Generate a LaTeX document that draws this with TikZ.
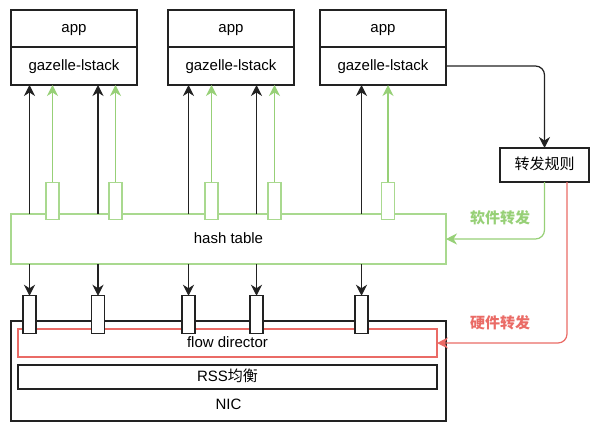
\documentclass[tikz,border=0pt]{standalone}
\usepackage{fontspec}
\setmainfont{Liberation Sans}
\newfontfamily\cjk{Noto Sans CJK SC}
\usetikzlibrary{arrows.meta}
\definecolor{gline}{HTML}{97D077}
\definecolor{gbox}{HTML}{A9D98F}
\definecolor{rline}{HTML}{EA6B66}
\definecolor{dk}{HTML}{222222}
\begin{document}
\begin{tikzpicture}[x=1pt,y=-1pt,
  every node/.style={font=\fontsize{15}{17}\selectfont, inner sep=0pt, outer sep=0pt, text height=12pt, text depth=3.2pt},
  box/.style={draw=dk, line width=1.2pt, fill=white},
  gbx/.style={draw=gbox, line width=1.2pt, fill=white},
  rbx/.style={draw=rline, line width=1.2pt, fill=white},
  tip/.style={-{Stealth[length=11pt,width=11pt,inset=3.5pt]}},
  karr/.style={tip, draw=dk, line width=1.2pt},
  garr/.style={tip, draw=gline, line width=1.2pt},
  rarr/.style={tip, draw=rline, line width=1.2pt},
  port/.style={minimum width=13, minimum height=37.5, text height=0pt, text depth=0pt}
]
\useasboundingbox (0,0) rectangle (602,431);

% app boxes
\foreach \i/\cx in {1/74,2/231,3/383}{
  \node[box, minimum width=126, minimum height=37] (app\i) at (\cx,28.5) {app};
  \node[box, minimum width=126, minimum height=38] (gz\i) at (\cx,66) {gazelle-lstack};
}

% rule box
\node[box, minimum width=89, minimum height=34] (rule) at (544.5,165) {\cjk 转发规则};

% hash table
\node[gbx, minimum width=435, minimum height=50] (ht) at (228.5,239) {hash table};

% NIC
\node[box, minimum width=435, minimum height=100, text height=0pt, text depth=0pt] (nic) at (228.5,371) {};
\node (nictext) at (228.5,405) {NIC};
\node[rbx, minimum width=419, minimum height=28] (fd) at (227.5,343) {flow director};
\node[box, minimum width=419, minimum height=24] (rss) at (227.5,377) {RSS{\cjk 均衡}};

% green ports and arrows
\foreach \i/\cx/\t in {1/52.5/1,2/115.5/1,3/211.5/2,4/274.5/2,5/388/3}{
  \node[gbx, port] (g\i) at (\cx,201) {};
  \draw[garr] (g\i.north) -- (gz\t.south -| g\i.north);
}

% black ports and arrows
\foreach \i/\cx/\t in {1/29.5/1,2/98/1,3/188.5/2,4/256.5/2,5/361.5/3}{
  \node[box, port] (b\i) at (\cx,314.5) {};
  \draw[karr] (ht.north -| b\i.north) -- (gz\t.south -| b\i.north);
  \draw[karr] (ht.south -| b\i.north) -- (b\i.north);
}

% rule connectors
\draw[karr, rounded corners=9pt] (gz3.east) -| (rule.north);
\draw[garr, rounded corners=9pt] (rule.south) |- (ht.east);
\draw[rarr, rounded corners=9pt] ([xshift=22.5pt]rule.south) |- (fd.east);

\node[text=gline, font=\fontsize{15}{17}\selectfont\cjk\bfseries] (sw) at (500,219) {软件转发};
\node[text=rline, font=\fontsize{15}{17}\selectfont\cjk\bfseries] (hw) at (500,324) {硬件转发};
\end{tikzpicture}
\end{document}
